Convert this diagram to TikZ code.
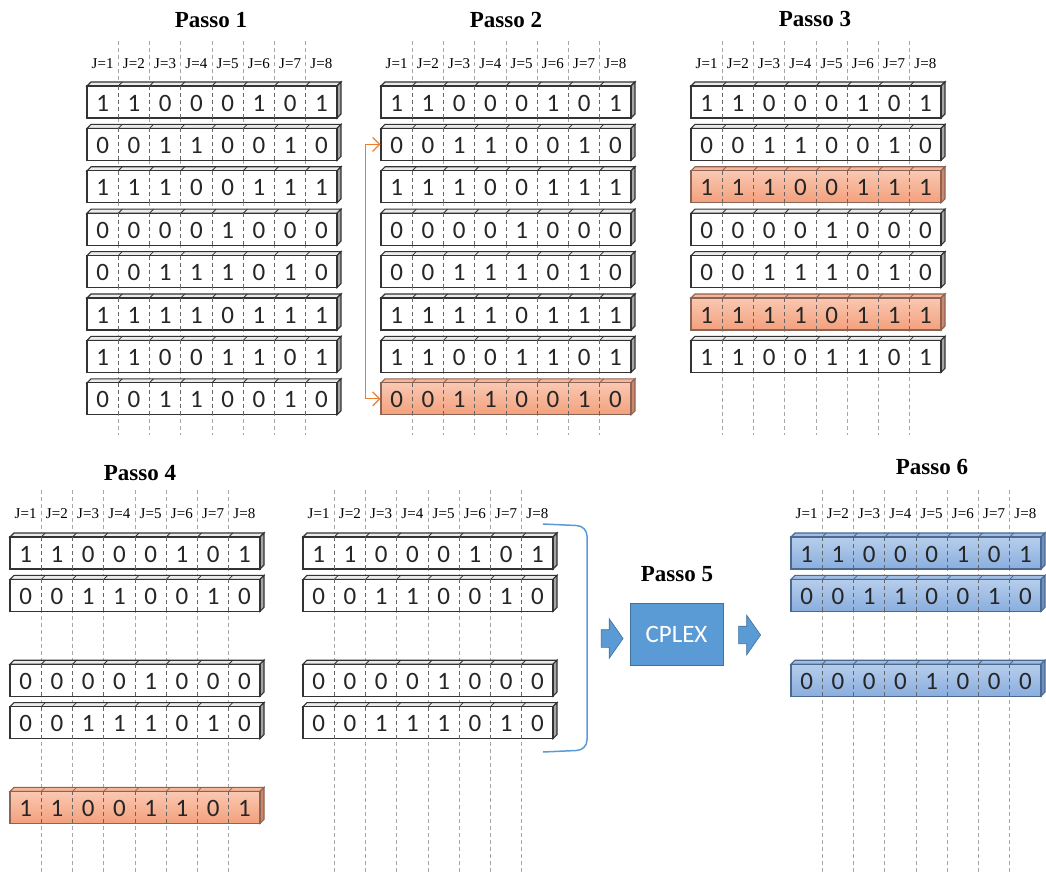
\documentclass[tikz,border=0pt]{standalone}
\usepackage{fontspec}
\setmainfont{Liberation Serif}
\newfontfamily\calib{Carlito}
\usepackage{xcolor}
\definecolor{orTop}{RGB}{250,200,178}
\definecolor{orBot}{RGB}{243,160,124}
\definecolor{orFace}{RGB}{246,182,152}
\definecolor{orSide}{RGB}{205,135,105}
\definecolor{orEdge}{RGB}{140,100,85}
\definecolor{blTop}{RGB}{182,206,236}
\definecolor{blBot}{RGB}{138,174,222}
\definecolor{blFace}{RGB}{160,190,228}
\definecolor{blSide}{RGB}{108,146,196}
\definecolor{blEdge}{RGB}{75,105,145}
\definecolor{cpBlue}{RGB}{91,155,213}
\definecolor{cpEdge}{RGB}{65,113,156}
\definecolor{arOrange}{RGB}{237,125,49}
\usepackage{tikz}
\usetikzlibrary{arrows.meta,shapes.arrows}

\tikzset{
  rowface/.style={line width=1.1pt, minimum width=250pt, minimum height=32pt, inner sep=0pt},
  whitebox/.style={draw=black!80, fill=white},
  whitetop/.style={draw=black!80, line width=1.1pt, fill=black!8},
  whiteside/.style={draw=black!80, line width=1.1pt, fill=black!35},
  orangebox/.style={draw=orEdge, top color=orTop, bottom color=orBot},
  orangetop/.style={draw=orEdge, line width=1.1pt, fill=orFace},
  orangeside/.style={draw=orEdge, line width=1.1pt, fill=orSide},
  bluebox/.style={draw=blEdge, top color=blTop, bottom color=blBot},
  bluetop/.style={draw=blEdge, line width=1.1pt, fill=blFace},
  blueside/.style={draw=blEdge, line width=1.1pt, fill=blSide},
  bit/.style={inner sep=0pt, font=\calib\fontsize{25}{25}\selectfont, text=black!85},
  jlab/.style={inner sep=0pt, font=\fontsize{15}{15}\selectfont},
  title/.style={inner sep=0pt, font=\bfseries\fontsize{23}{23}\selectfont},
  guide/.style={draw=black!35, line width=0.9pt, dash pattern=on 4pt off 3pt},
  divider/.style={draw=black!60, line width=0.9pt, dash pattern=on 4pt off 3pt},
  blockarrow/.style={single arrow, draw=cpEdge, fill=cpBlue, line width=0.6pt,
    inner xsep=0pt, inner ysep=8.5pt, minimum height=22pt,
    single arrow head extend=11pt, single arrow tip angle=110}
}

% one row of bits: name, left x, top y, look, bits
\newcommand{\bitrow}[5]{%
  \filldraw[#4top] (#2,#3) -- (#2+4,#3-4) -- (#2+254,#3-4) -- (#2+250,#3) -- cycle;
  \filldraw[#4side] (#2+250,#3) -- (#2+254,#3-4) -- (#2+254,#3+28) -- (#2+250,#3+32) -- cycle;
  \node[rowface, #4box] (#1) at (#2+125,#3+16) {};
  \foreach \i in {1,...,7} {
    \draw[#4top, fill=none, line width=0.8pt] (#2+31.25*\i,#3) -- ++(4,-4);
    \draw[divider] (#2+31.25*\i,#3) -- ++(0,32);
  }
  \foreach \b [count=\i] in {#5}
    \node[bit] (#1c\i) at (#2+31.25*\i-15.625,#3+17) {\b};
}
% column labels: prefix, left x, y
\newcommand{\jlabels}[3]{%
  \foreach \i in {1,...,8}
    \node[jlab] (#1j\i) at (#2+31.25*\i-15.625,#3) {J=\i};
}
% dashed column guides: left x, from y, to y
\newcommand{\guides}[3]{%
  \foreach \i in {1,...,7}
    \draw[guide] (#1+31.25*\i,#2) -- (#1+31.25*\i,#3);
}

\begin{document}
\begin{tikzpicture}[x=1pt, y=-1pt]
\useasboundingbox (0,0) rectangle (1046,874);

% guides behind everything
\guides{87}{41}{435}
\guides{381}{41}{435}
\guides{691}{41}{435}
\guides{10}{490}{874}
\guides{303}{490}{874}
\guides{791}{490}{874}

% Passo 1
\node[title] (t1) at (211,20) {Passo 1};
\jlabels{p1}{87}{64}
\bitrow{p1r1}{87}{86}{white}{1,1,0,0,0,1,0,1}
\bitrow{p1r2}{87}{128.4}{white}{0,0,1,1,0,0,1,0}
\bitrow{p1r3}{87}{170.8}{white}{1,1,1,0,0,1,1,1}
\bitrow{p1r4}{87}{213.2}{white}{0,0,0,0,1,0,0,0}
\bitrow{p1r5}{87}{255.6}{white}{0,0,1,1,1,0,1,0}
\bitrow{p1r6}{87}{298}{white}{1,1,1,1,0,1,1,1}
\bitrow{p1r7}{87}{340.4}{white}{1,1,0,0,1,1,0,1}
\bitrow{p1r8}{87}{382.8}{white}{0,0,1,1,0,0,1,0}

% Passo 2
\node[title] (t2) at (506,20) {Passo 2};
\jlabels{p2}{381}{64}
\bitrow{p2r1}{381}{86}{white}{1,1,0,0,0,1,0,1}
\bitrow{p2r2}{381}{128.4}{white}{0,0,1,1,0,0,1,0}
\bitrow{p2r3}{381}{170.8}{white}{1,1,1,0,0,1,1,1}
\bitrow{p2r4}{381}{213.2}{white}{0,0,0,0,1,0,0,0}
\bitrow{p2r5}{381}{255.6}{white}{0,0,1,1,1,0,1,0}
\bitrow{p2r6}{381}{298}{white}{1,1,1,1,0,1,1,1}
\bitrow{p2r7}{381}{340.4}{white}{1,1,0,0,1,1,0,1}
\bitrow{p2r8}{381}{382.8}{orange}{0,0,1,1,0,0,1,0}
\draw[arOrange, line width=1.2pt, {Straight Barb[length=7pt,width=14pt]}-{Straight Barb[length=7pt,width=14pt]}]
  (p2r8.west) -- ++(-15,0) |- (p2r2.west);

% Passo 3
\node[title] (t3) at (815,19) {Passo 3};
\jlabels{p3}{691}{64}
\bitrow{p3r1}{691}{86}{white}{1,1,0,0,0,1,0,1}
\bitrow{p3r2}{691}{128.4}{white}{0,0,1,1,0,0,1,0}
\bitrow{p3r3}{691}{170.8}{orange}{1,1,1,0,0,1,1,1}
\bitrow{p3r4}{691}{213.2}{white}{0,0,0,0,1,0,0,0}
\bitrow{p3r5}{691}{255.6}{white}{0,0,1,1,1,0,1,0}
\bitrow{p3r6}{691}{298}{orange}{1,1,1,1,0,1,1,1}
\bitrow{p3r7}{691}{340.4}{white}{1,1,0,0,1,1,0,1}

% Passo 4
\node[title] (t4) at (140,473) {Passo 4};
\jlabels{p4}{10}{514}
\bitrow{p4r1}{10}{537}{white}{1,1,0,0,0,1,0,1}
\bitrow{p4r2}{10}{579.4}{white}{0,0,1,1,0,0,1,0}
\bitrow{p4r3}{10}{664.2}{white}{0,0,0,0,1,0,0,0}
\bitrow{p4r4}{10}{706.6}{white}{0,0,1,1,1,0,1,0}
\bitrow{p4r5}{10}{791.4}{orange}{1,1,0,0,1,1,0,1}

% rows handed to the solver
\jlabels{m}{303}{514}
\bitrow{mr1}{303}{537}{white}{1,1,0,0,0,1,0,1}
\bitrow{mr2}{303}{579.4}{white}{0,0,1,1,0,0,1,0}
\bitrow{mr3}{303}{664.2}{white}{0,0,0,0,1,0,0,0}
\bitrow{mr4}{303}{706.6}{white}{0,0,1,1,1,0,1,0}
\draw[cpBlue, line width=1.5pt, rounded corners=10pt]
  (543,524) -- (587,526) -- (587,750) -- (543,752);

% Passo 5
\node[title] (t5) at (677,574) {Passo 5};
\node[draw=cpEdge, line width=1pt, fill=cpBlue, minimum width=93pt, minimum height=62pt,
  text=white, font=\calib\fontsize{25}{25}\selectfont] (cplex) at (676.5,634) {CPLEX};
\node[blockarrow] (arrin) at (609,638.5) {};
\node[blockarrow] (arrout) at (746.5,635) {};

% Passo 6
\node[title] (t6) at (932,467) {Passo 6};
\jlabels{p6}{791}{514}
\bitrow{p6r1}{791}{537}{blue}{1,1,0,0,0,1,0,1}
\bitrow{p6r2}{791}{579.4}{blue}{0,0,1,1,0,0,1,0}
\bitrow{p6r3}{791}{664.2}{blue}{0,0,0,0,1,0,0,0}

\end{tikzpicture}
\end{document}
